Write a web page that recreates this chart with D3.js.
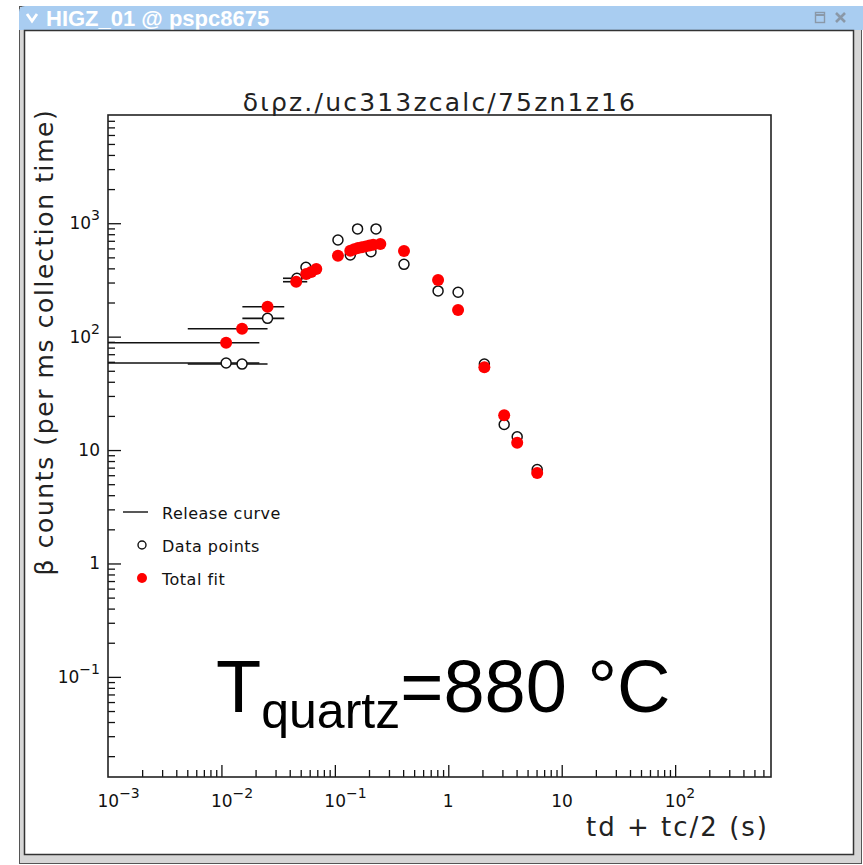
<!DOCTYPE html>
<html>
<head>
<meta charset="utf-8">
<script src="https://cdn.jsdelivr.net/npm/d3@7"></script>
<style>
  body { margin: 0; background: #fff; }
  svg { display: block; }
</style>
</head>
<body>
<svg id="chart" width="863" height="865"></svg>
<script>
// ---- measured rates: x = td + tc/2 (s), y = beta counts per ms ----
const dataX   = [0.0110, 0.0152, 0.0255, 0.0463, 0.0556, 0.1065, 0.1368, 0.1586, 0.2083, 0.2306, 0.407, 0.813, 1.22, 2.08, 3.11, 4.05, 6.08];
const dataY   = [58.5, 57.3, 145, 327, 409, 712, 525, 891, 561, 891, 434, 253, 246, 57.3, 16.8, 13.1, 6.74];
// collection window [td, td + tc] drawn as a horizontal bar (null = none)
const dataXlo = [0, 0.00505, 0.0153, 0.0349, null, null, null, null, null, null, null, null, null, null, null, null, null];
const dataXhi = [0.0216, 0.0255, 0.0358, 0.0571, null, null, null, null, null, null, null, null, null, null, null, null, null];

// ---- total fit evaluated at the same delays ----
const fitX   = [0.0110, 0.0152, 0.0255, 0.0456, 0.0559, 0.0619, 0.0686, 0.1065, 0.1368, 0.148, 0.160, 0.173, 0.187, 0.202, 0.218, 0.2517, 0.407, 0.813, 1.22, 2.08, 3.11, 4.05, 6.08];
const fitY   = [88.3, 117.4, 183.6, 305, 357, 372, 395, 517.6, 573, 590, 605, 615, 625, 635, 645, 656, 569.6, 316, 171.7, 53.6, 20.3, 11.6, 6.29];
const fitXlo = [0, 0.00505, 0.0153, 0.0349, null, null, null, null, null, null, null, null, null, null, null, null, null, null, null, null, null, null, null];
const fitXhi = [0.0216, 0.0255, 0.0358, 0.0571, null, null, null, null, null, null, null, null, null, null, null, null, null, null, null, null, null, null, null];

// ---- axes ----
const xDomain = [1e-3, 700];
const yDomain = [0.0131, 9000];
const xMajorTicks = [1e-3, 1e-2, 1e-1, 1, 10, 100];
const xTickBase   = ["10", "10", "10", "1", "10", "10"];
const xTickExp    = ["\u22123", "\u22122", "\u22121", "", "", "2"];
const yMajorTicks = [0.1, 1, 10, 100, 1000];
const yTickBase   = ["10", "1", "10", "10", "10"];
const yTickExp    = ["\u22121", "", "", "2", "3"];

const titleText  = "\u03b4\u03b9\u03c1z./uc313zcalc/75zn1z16";
const xLabelText = "td + tc/2 (s)";
const yLabelText = "\u03b2 counts (per ms collection time)";
const legendText = ["Release curve", "Data points", "Total fit"];
const windowTitle = "HIGZ_01 @ pspc8675";

const svg = d3.select("#chart");
const W = 863, H = 865;

// ---- window decoration ----
svg.append("rect").attr("x", 0).attr("y", 0).attr("width", W).attr("height", H).attr("fill", "#ffffff");
// frame
svg.append("rect").attr("x", 19.5).attr("y", 6.5).attr("width", 842).attr("height", 857)
  .attr("fill", "#d6d6d6").attr("stroke", "#555").attr("stroke-width", 1);
// title bar
svg.append("path")
  .attr("d", "M19,30 L19,12 Q19,6 25,6 L863,6 L863,30 Z")
  .attr("fill", "#a9cdf1");
svg.append("path").attr("d", "M27,14 L32,21 L37,14").attr("fill", "none")
  .attr("stroke", "#fff").attr("stroke-width", 2.8);
svg.append("text").attr("x", 46).attr("y", 25.5).text(windowTitle)
  .attr("font-family", "Liberation Sans, Arial, sans-serif").attr("font-size", 22)
  .attr("font-weight", "bold").attr("fill", "#fff");
// title-bar buttons
svg.append("rect").attr("x", 815.5).attr("y", 12.5).attr("width", 9).attr("height", 10)
  .attr("fill", "none").attr("stroke", "#8a98a8").attr("stroke-width", 1.4);
svg.append("line").attr("x1", 815.5).attr("x2", 824.5).attr("y1", 15).attr("y2", 15)
  .attr("stroke", "#8a98a8").attr("stroke-width", 2);
svg.append("path").attr("d", "M836,13 L845,22 M845,13 L836,22").attr("stroke", "#8a98a8")
  .attr("stroke-width", 2.6);
// client area
svg.append("rect").attr("x", 24.5).attr("y", 30.5).attr("width", 829).attr("height", 824)
  .attr("fill", "#fff").attr("stroke", "#333").attr("stroke-width", 1.5);

// ---- plot frame and scales ----
const plot = { left: 108, right: 771, top: 115, bottom: 777 };
const x = d3.scaleLog().domain(xDomain).range([plot.left, plot.right]);
const y = d3.scaleLog().domain(yDomain).range([plot.bottom, plot.top]);

const ink = "#111";
const font = "DejaVu Sans, Verdana, sans-serif";

const g = svg.append("g");
const clipId = "plotclip";
svg.append("defs").append("clipPath").attr("id", clipId).append("rect")
  .attr("x", plot.left).attr("y", plot.top)
  .attr("width", plot.right - plot.left).attr("height", plot.bottom - plot.top);

// inward ticks on the bottom axis
const xAxis = d3.axisBottom(x)
  .tickValues(x.ticks().filter(v => v > xDomain[0] && v < xDomain[1]))
  .tickSize(0).tickFormat("");
const xAx = g.append("g").attr("transform", `translate(0,${plot.bottom})`).call(xAxis);
xAx.select(".domain").remove();
xAx.selectAll(".tick line")
  .attr("y2", d => xMajorTicks.includes(d) ? -12 : -7)
  .attr("stroke", ink).attr("stroke-width", 1.3);

// inward ticks on the left axis
const yAxis = d3.axisLeft(y)
  .tickValues(y.ticks().filter(v => v > yDomain[0] && v < yDomain[1]))
  .tickSize(0).tickFormat("");
const yAx = g.append("g").attr("transform", `translate(${plot.left},0)`).call(yAxis);
yAx.select(".domain").remove();
yAx.selectAll(".tick line")
  .attr("x2", d => yMajorTicks.includes(d) ? 13 : 7)
  .attr("stroke", ink).attr("stroke-width", 1.3);

// frame
g.append("rect").attr("x", plot.left).attr("y", plot.top)
  .attr("width", plot.right - plot.left).attr("height", plot.bottom - plot.top)
  .attr("fill", "none").attr("stroke", "#222").attr("stroke-width", 1.6);

// tick labels (10 with superscript exponent)
xMajorTicks.forEach((v, i) => {
  const t = g.append("text").attr("y", plot.bottom + 30)
    .attr("font-family", font).attr("font-size", 17).attr("fill", ink);
  t.append("tspan").text(xTickBase[i]);
  if (xTickExp[i]) t.append("tspan").attr("dy", -9).attr("font-size", 14).text(xTickExp[i]);
  const baseW = xTickBase[i] === "1" ? 11 : 21;
  t.attr("x", x(v) - baseW / 2);
});
yMajorTicks.forEach((v, i) => {
  const t = g.append("text").attr("y", y(v) + 6)
    .attr("font-family", font).attr("font-size", 17).attr("fill", ink)
    .attr("text-anchor", "end");
  t.append("tspan").text(yTickBase[i]);
  if (yTickExp[i]) t.append("tspan").attr("dy", -9).attr("font-size", 14).text(yTickExp[i]);
  t.attr("x", plot.left - 8);
});

// title and axis labels
g.append("text").attr("x", 440).attr("y", 111).attr("text-anchor", "middle")
  .attr("font-family", font).attr("font-size", 25).attr("letter-spacing", 2.2)
  .attr("fill", "#222").text(titleText);
g.append("text").attr("x", plot.right - 2).attr("y", 836).attr("text-anchor", "end")
  .attr("font-family", font).attr("font-size", 26).attr("letter-spacing", 2)
  .attr("fill", "#222").text(xLabelText);
g.append("text").attr("transform", "translate(53,342) rotate(-90)").attr("text-anchor", "middle")
  .attr("font-family", font).attr("font-size", 25).attr("letter-spacing", 1.6)
  .attr("fill", "#222").text(yLabelText);

// ---- marks ----
const marks = g.append("g").attr("clip-path", `url(#${clipId})`);
const clampLo = v => Math.max(v, xDomain[0] / 2);

function bars(xs, ys, lo, hi) {
  xs.forEach((_, i) => {
    if (lo[i] == null) return;
    marks.append("line")
      .attr("x1", x(clampLo(lo[i]))).attr("x2", x(hi[i]))
      .attr("y1", y(ys[i])).attr("y2", y(ys[i]))
      .attr("stroke", ink).attr("stroke-width", 1.6);
  });
}
bars(dataX, dataY, dataXlo, dataXhi);
bars(fitX, fitY, fitXlo, fitXhi);

marks.selectAll("circle.data").data(dataX).join("circle").attr("class", "data")
  .attr("cx", d => x(d)).attr("cy", (d, i) => y(dataY[i])).attr("r", 5)
  .attr("fill", "#fff").attr("stroke", ink).attr("stroke-width", 1.5);
marks.selectAll("circle.fit").data(fitX).join("circle").attr("class", "fit")
  .attr("cx", d => x(d)).attr("cy", (d, i) => y(fitY[i])).attr("r", 6)
  .attr("fill", "#f00").attr("stroke", "none");

// ---- legend ----
const lg = g.append("g");
lg.append("line").attr("x1", 123).attr("x2", 148).attr("y1", 512).attr("y2", 512)
  .attr("stroke", ink).attr("stroke-width", 1.4);
lg.append("circle").attr("cx", 142).attr("cy", 545).attr("r", 4)
  .attr("fill", "#fff").attr("stroke", ink).attr("stroke-width", 1.4);
lg.append("circle").attr("cx", 142).attr("cy", 578).attr("r", 5).attr("fill", "#f00");
legendText.forEach((s, i) => {
  lg.append("text").attr("x", 162).attr("y", 519 + i * 33)
    .attr("font-family", font).attr("font-size", 16).attr("letter-spacing", 0.5)
    .attr("fill", ink).text(s);
});

// ---- annotation ----
const ann = g.append("text").attr("x", 216).attr("y", 712)
  .attr("font-family", "Liberation Sans, Arial, sans-serif").attr("font-size", 74).attr("fill", "#000");
ann.append("tspan").text("T");
ann.append("tspan").attr("dy", 16).attr("font-size", 50).text("quartz");
ann.append("tspan").attr("dy", -16).text("=880 \u00b0C");
</script>
</body>
</html>
